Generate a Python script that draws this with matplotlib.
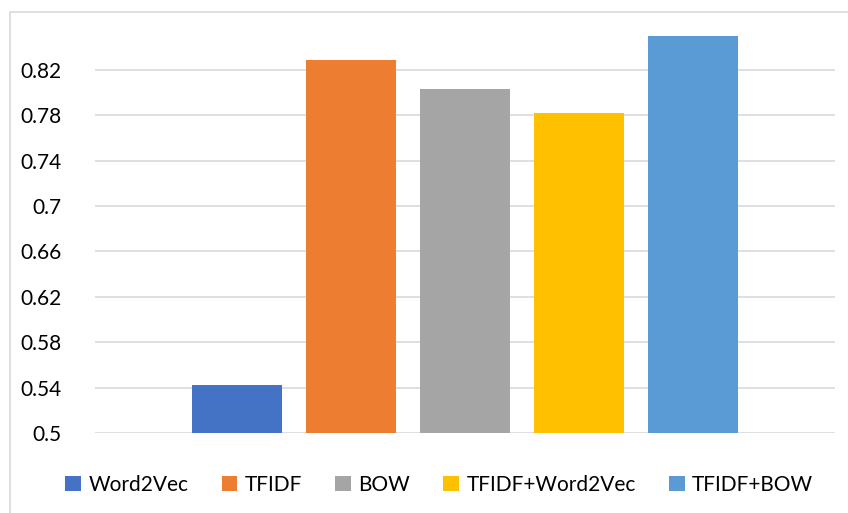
import matplotlib.pyplot as plt
from matplotlib.patches import Rectangle

# Data
methods = ["Word2Vec", "TFIDF", "BOW", "TFIDF+Word2Vec", "TFIDF+BOW"]
scores = [0.542, 0.829, 0.803, 0.782, 0.850]
colors = ["#4472C4", "#ED7D31", "#A5A5A5", "#FFC000", "#5B9BD5"]
y_ticks = [0.5, 0.54, 0.58, 0.62, 0.66, 0.7, 0.74, 0.78, 0.82]
y_tick_labels = ["0.5", "0.54", "0.58", "0.62", "0.66", "0.7", "0.74", "0.78", "0.82"]

plt.rcParams["font.family"] = ["Lato", "DejaVu Sans"]

fig = plt.figure(figsize=(8.48, 5.13), dpi=100)
ax = fig.add_axes([0.112, 0.156, 0.873, 0.796])

# Light grey chart frame like the office chart border
fig.patches.append(Rectangle((10 / 848, -0.1), 1.0, 1 - 12 / 513 + 0.1,
                             transform=fig.transFigure, fill=False,
                             edgecolor="#d9d9d9", linewidth=1.2))

for i, (m, s, c) in enumerate(zip(methods, scores, colors)):
    ax.bar(i, s - 0.5, bottom=0.5, width=0.79, color=c, label=m, zorder=3)

ax.set_xlim(-1.246, 5.246)
ax.set_ylim(0.5, 0.86)
ax.set_yticks(y_ticks)
ax.set_yticklabels(y_tick_labels, fontsize=15)
ax.set_xticks([])
ax.tick_params(axis="y", length=0, pad=24)
ax.yaxis.grid(True, color="#d9d9d9", linewidth=1.2, zorder=0)
for sp in ax.spines.values():
    sp.set_visible(False)

fig.legend(loc="center", bbox_to_anchor=(0.518, 1 - 485 / 513), ncol=5,
           frameon=False, fontsize=15, handlelength=0.75, handleheight=0.75,
           handletextpad=0.35, columnspacing=1.6)

plt.savefig("out.png", dpi=100)
